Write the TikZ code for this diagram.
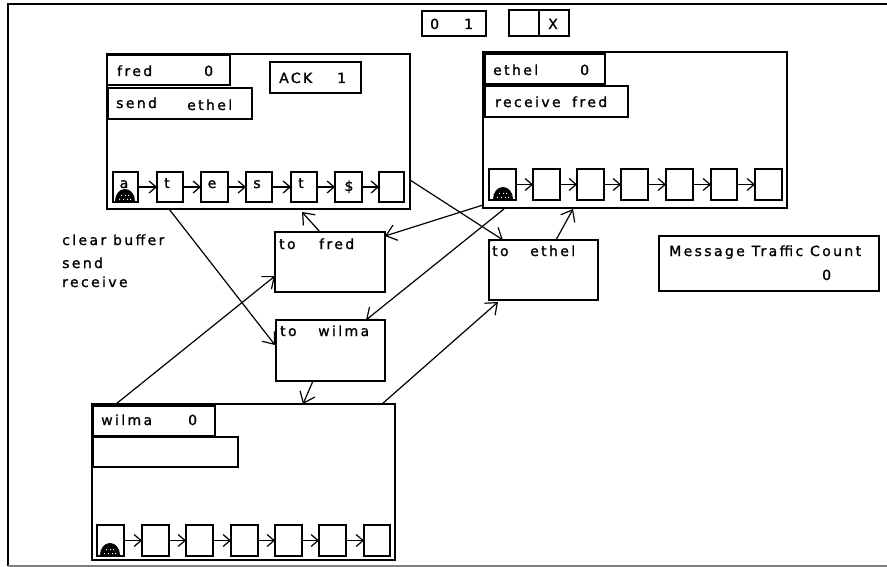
\documentclass[tikz,border=0pt]{standalone}
\usepackage{fontspec}
\setmainfont[LetterSpace=17,FakeBold=1.2]{DejaVu Sans}
\usetikzlibrary{arrows.meta}
\tikzset{
  x=1pt,y=-1pt,
  panel/.style={draw,line width=1.5pt,fill=white,outer sep=0pt},
  field/.style={draw,line width=1.5pt,fill=white,outer sep=0pt},
  thickfield/.style={draw,line width=2.4pt,fill=white,outer sep=0pt},
  cell/.style={draw,line width=1.3pt,fill=white,outer sep=0pt},
  link/.style={draw,line width=1.2pt,-{Straight Barb[length=7pt,width=12pt,line width=1.2pt]}},
  biglink/.style={draw,line width=1.2pt,-{Straight Barb[length=10pt,width=16pt,line width=1.2pt]}},
  lab/.style={font=\fontsize{14}{16}\selectfont,inner sep=0pt,anchor=base west},
  cen/.style={font=\fontsize{14}{16}\selectfont,inner sep=0pt,anchor=base},
}
\newcommand{\rectnode}[6][panel]{\node[#1,rectangle,inner sep=0pt,minimum width=#5-#3,minimum height=#6-#4,anchor=north west] (#2) at (#3,#4) {};}
\newcommand{\turtle}[2]{\fill (#1-10,#2) arc[start angle=180,end angle=360,x radius=10,y radius=12] -- cycle;
  \fill[white] (#1-6,#2-2) rectangle (#1-5,#2-1) (#1-2,#2-2) rectangle (#1-1,#2-1) (#1+2,#2-2) rectangle (#1+3,#2-1) (#1+5,#2-2) rectangle (#1+6,#2-1)
   (#1-4,#2-6) rectangle (#1-3,#2-5) (#1,#2-6) rectangle (#1+1,#2-5) (#1+4,#2-6) rectangle (#1+3,#2-5);}
\begin{document}
\begin{tikzpicture}
\useasboundingbox (0,0) rectangle (887,567);
\fill[white] (0,0) rectangle (887,567);
\draw[line width=1.4pt] (8,566) -- (8,4) -- (887,4);
\draw[line width=1.4pt,gray] (8,566) -- (887,566);
% top boxes
\rectnode[field]{zeroone}{422}{11}{486}{36}
\node[lab] (zeroonetxt) at (430,29) {0};
\node[lab] (zeroonetxtb) at (464,29) {1};
\rectnode[field]{blank}{509}{10}{539}{36}
\rectnode[field]{xbox}{539}{10}{569}{36}
\node[cen] (xtxt) at (553,29) {X};
% panels
\rectnode{fred}{107}{54}{410}{209}
\rectnode{ethel}{483}{52}{787}{208}
\rectnode{wilma}{92}{404}{395}{560}
\rectnode[panel]{tofred}{275}{232}{385}{292}
\rectnode[panel]{towilma}{276}{320}{385}{381}
\rectnode[panel]{toethel}{489}{240}{598}{300}
\rectnode[panel]{traffic}{659}{236}{879}{291}
% fields
\rectnode[thickfield]{fredname}{107}{55}{230}{85}
\rectnode[field]{fredcmd}{108}{88}{252}{119}
\rectnode[field]{ack}{270}{62}{361}{93}
\rectnode[thickfield]{ethelname}{485}{54}{605}{84}
\rectnode[field]{ethelcmd}{485}{86}{628}{117}
\rectnode[thickfield]{wilmaname}{93}{406}{215}{436}
\rectnode[field]{wilmacmd}{93}{437}{238}{467}
% field texts
\node[lab] (t1) at (117,76) {fred};
\node[lab] (t2) at (204,76) {0};
\node[lab] (t3) at (116,108) {send};
\node[lab] (t4) at (187,110) {ethel};
\node[lab] (t5) at (279,83) {ACK};
\node[lab] (t6) at (337,83) {1};
\node[lab] (t7) at (493,75) {ethel};
\node[lab] (t8) at (580,75) {0};
\node[lab] (t9) at (495,107) {receive};
\node[lab] (t10) at (572,107) {fred};
\node[lab] (t11) at (101,425) {wilma};
\node[lab] (t12) at (188,425) {0};
\node[lab] (t13) at (279,249) {to};
\node[lab] (t14) at (319,249) {fred};
\node[lab] (t15) at (280,336) {to};
\node[lab] (t16) at (318,336) {wilma};
\node[lab] (t17) at (492,256) {to};
\node[lab] (t18) at (530,256) {ethel};
\node[lab] (t19) at (669,256) {Message Traffic Count};
\node[lab] (t20) at (822,280) {0};
\node[lab] (t21) at (62,245) {clear buffer};
\node[lab] (t22) at (62,268) {send};
\node[lab] (t23) at (62,287) {receive};
% cells
\foreach \i/\a/\b in {1/113/138,2/157/183,3/201/228,4/246/272,5/291/317,6/335/362,7/379/404}
  {\rectnode[cell]{fc\i}{\a}{172}{\b}{202}}
\foreach \i/\a/\b in {1/489/516,2/533/560,3/577/604,4/621/648,5/666/693,6/711/737,7/755/782}
  {\rectnode[cell]{ec\i}{\a}{169}{\b}{200}}
\foreach \i/\a/\b in {1/97/124,2/142/169,3/186/213,4/231/258,5/275/302,6/319/346,7/364/390}
  {\rectnode[cell]{wc\i}{\a}{525}{\b}{556}}
\foreach \p in {fc,ec,wc}
  \foreach \i/\j in {1/2,2/3,3/4,4/5,5/6,6/7}
    {\draw[link] (\p\i.east) -- (\p\j.west);}
\node[cen] (c1) at (124,188) {a};
\node[cen] (c2) at (167,188) {t};
\node[cen] (c3) at (212,188) {e};
\node[cen] (c4) at (257,188) {s};
\node[cen] (c5) at (301,188) {t};
\node[cen] (c6) at (349,191) {\$};
\turtle{125}{201}
\turtle{503}{199}
\turtle{110}{555}
% connectors between panels
\coordinate (a1) at (169,209); \coordinate (a2) at (275,345);
\coordinate (b1) at (410,180); \coordinate (b2) at (503,240);
\coordinate (d1) at (483,205); \coordinate (d2) at (385,236);
\coordinate (e1) at (504,209); \coordinate (e2) at (366,320);
\coordinate (g1) at (556,240); \coordinate (g2) at (573,209);
\coordinate (h1) at (320,232); \coordinate (h2) at (302,212);
\coordinate (i1) at (313,381); \coordinate (i2) at (303,404);
\coordinate (j1) at (116,404); \coordinate (j2) at (275,276);
\coordinate (k1) at (382,404); \coordinate (k2) at (498,302);
\foreach \s in {a,b,d,e,g,h,i,j,k}
  {\draw[biglink] (\s1) -- (\s2);}
\end{tikzpicture}
\end{document}
